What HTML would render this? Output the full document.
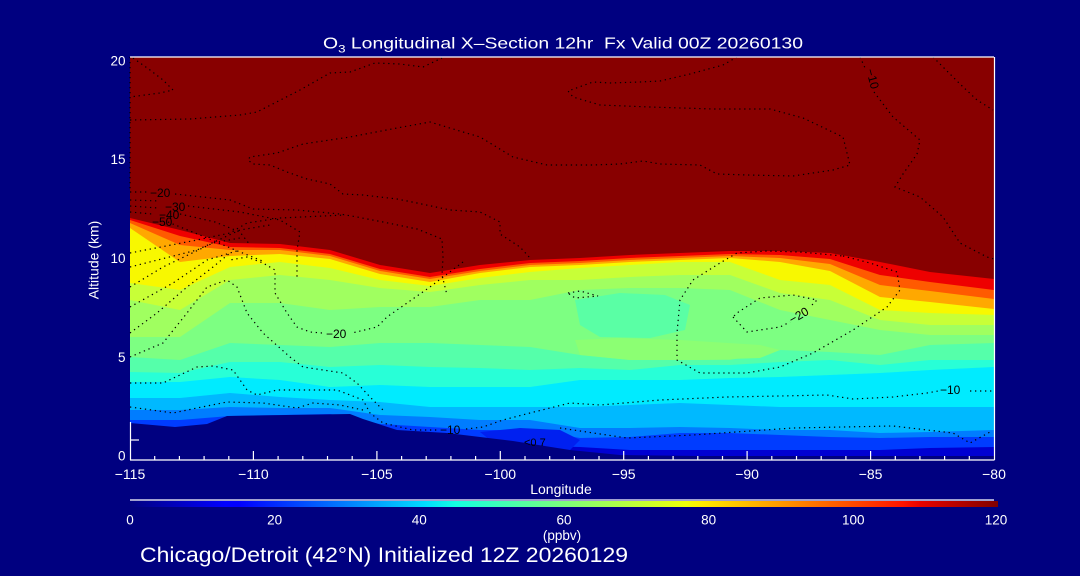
<!DOCTYPE html>
<html>
<head>
<meta charset="utf-8">
<style>
  html,body{margin:0;padding:0;background:#000080;}
  svg{display:block;}
  text{font-family:"Liberation Sans",sans-serif;}
</style>
</head>
<body>
<svg width="1080" height="576" viewBox="0 0 1080 576" xmlns="http://www.w3.org/2000/svg">
  <defs>
    <linearGradient id="jet" x1="0" y1="0" x2="1" y2="0">
      <stop offset="0" stop-color="#000080"/>
      <stop offset="0.11" stop-color="#0000ff"/>
      <stop offset="0.125" stop-color="#0000ff"/>
      <stop offset="0.34" stop-color="#00dbff"/>
      <stop offset="0.375" stop-color="#14ffe2"/>
      <stop offset="0.5" stop-color="#7bff7b"/>
      <stop offset="0.64" stop-color="#eeff08"/>
      <stop offset="0.66" stop-color="#ffec00"/>
      <stop offset="0.89" stop-color="#ff1300"/>
      <stop offset="0.91" stop-color="#e80000"/>
      <stop offset="1" stop-color="#800000"/>
    </linearGradient>
  </defs>
  <rect width="1080" height="576" fill="#000080"/>

  <!-- Field bands -->
  <rect x="130" y="57" width="864" height="403" fill="#0000d2"/>
  <polygon fill="#003cff" points="130,57 130,440 180,440 230,440 280,440 330,440 380,440 430,440 480,440 530,446 580,447 630,450 680,450 730,450 780,450 830,450 880,450 930,448 994,447 994,57"/>
  <polygon fill="#007dff" points="130,57 130,420 180,420 230,416 280,415 330,414 380,424 430,427 480,430 530,430 580,438 630,437 680,433 730,433 780,435 830,437 880,438 930,437 994,437 994,57"/>
  <polygon fill="#00b9ff" points="130,57 130,410 180,410 230,407 280,408 330,408 380,415 430,417 480,420 530,420 580,428 630,428 680,427 730,428 780,430 830,430 880,433 930,432 994,430 994,57"/>
  <polygon fill="#00ebff" points="130,57 130,398 180,398 230,393 280,397 330,400 380,402 430,407 480,407 530,407 580,407 630,405 680,403 730,405 780,407 830,407 880,407 930,407 994,407 994,57"/>
  <polygon fill="#28ffd7" points="130,57 130,382 180,382 230,377 280,380 330,387 380,385 430,387 480,387 530,387 580,380 630,380 680,380 730,378 780,377 830,375 880,373 930,370 994,367 994,57"/>
  <polygon fill="#55ffaa" points="130,57 130,372 180,373 230,362 280,362 330,367 380,365 430,367 480,368 530,370 580,368 630,370 680,365 730,365 780,362 830,360 880,365 930,360 994,360 994,57"/>
  <polygon fill="#7dff82" points="130,57 130,357 180,360 230,343 280,345 330,347 380,343 430,343 480,345 530,347 580,355 630,360 680,360 730,360 780,350 830,352 880,355 930,345 994,343 994,57"/>
  <polygon fill="#8cff73" points="575,340 620,338 680,340 760,345 780,350 760,358 700,360 630,360 580,355"/>
  <polygon fill="#a0ff60" points="130,57 130,337 180,337 230,303 280,303 330,310 380,307 430,307 480,300 530,300 580,290 630,288 680,288 730,290 780,310 830,320 880,330 930,335 994,335 994,57"/>
  <polygon fill="#c8ff37" points="130,57 130,300 180,310 230,280 280,275 330,280 380,288 430,292 480,285 530,280 580,280 630,277 680,275 730,275 780,293 830,300 880,320 930,325 994,325 994,57"/>
  <polygon fill="#f8f800" points="130,57 130,283 180,290 230,267 280,262 330,268 380,280 430,286 480,278 530,272 580,268 630,265 680,262 730,262 780,280 830,285 880,310 930,313 994,315 994,57"/>
  <polygon fill="#ffa800" points="130,57 130,228 180,262 230,256 280,254 330,259 380,274 430,282 480,273 530,267 580,265 630,262 680,260 730,258 780,262 830,271 880,297 930,302 994,309 994,57"/>
  <polygon fill="#ff5a00" points="130,57 130,223 180,245 230,250 280,250 330,256 380,271 430,279 480,271 530,265 580,263 630,260 680,258 730,256 780,258 830,264 880,285 930,291 994,299 994,57"/>
  <polygon fill="#ee0000" points="130,57 130,220 180,236 230,247 280,248 330,254 380,269 430,277 480,269 530,263 580,261 630,258 680,256 730,254 780,255 830,259 880,275 930,282 994,290 994,57"/>
  <polygon fill="#880000" points="130,57 130,218 180,230 230,243 280,244 330,250 380,265 430,273 480,265 530,260 580,258 630,255 680,253 730,251 780,251 830,253 880,262 930,272 994,279 994,57"/>

  <!-- patches -->
  <polygon fill="#5affa5" points="575,300 620,293 665,295 690,305 685,330 650,338 600,337 580,325"/>
  <polygon fill="#0020f0" points="480,432 520,428 560,430 580,440 570,450 520,448 490,440"/>

  <!-- terrain -->
  <polygon fill="#000080" points="130,423 175,427 207,424 227,416 350,414 363,419 397,430 447,433 513,441 570,450 620,455 700,456 994,456 994,461 130,461"/>

  <!-- contours -->
  <g fill="none" stroke="#000" stroke-width="1.2" stroke-dasharray="1.3 3.7">
    <path d="M130,57 L130,190"/>
    <path d="M133,58 L150,70 L163,80 L173,90 L160,93 L145,95 L130,97"/>
    <path d="M130,120 L190,119 L240,115 L257,112 L300,90 L330,73 L350,72 L375,63 L400,64 L423,67 L442,58"/>
    <path d="M737,57 L723,65 L690,74 L660,81 L640,82 L610,83 L593,82 L568,91 L573,97 L600,105 L650,107 L713,109 L770,109 L803,118 L843,137 L848,157 L850,165 L833,170 L793,176 L747,175 L717,174 L700,165 L660,164 L643,161 L620,164 L593,165 L547,165 L513,157 L480,137 L463,132 L430,122 L397,128 L350,137 L303,144 L277,153 L250,157 L248,160 L253,164 L270,165 L287,172 L307,179 L330,184 L343,194 L363,195 L397,199 L417,203 L450,210 L480,212 L500,222 L500,234 L520,247 L530,258"/>
    <path d="M130,192 L148,192"/>
    <path d="M175,194 L230,200 L243,205 L253,209 L297,210 L340,214 L357,217 L383,222 L417,229 L442,239 L443,257 L442,275 L447,295"/>
    <path d="M130,200 L160,201"/>
    <path d="M188,206 L240,212 L280,220 L300,232 L297,250 L297,278"/>
    <path d="M130,206 L158,208"/>
    <path d="M180,214 L215,222 L240,232 L250,245"/>
    <path d="M130,212 L152,214 M168,222 L200,235 L235,250 L265,262"/>
    <path d="M130,253 L197,240 L230,233 L247,223 L280,218 L345,215"/>
    <path d="M130,267 L197,250 L240,230 L270,225"/>
    <path d="M130,287 L163,267 L213,243 L240,238"/>
    <path d="M130,307 L173,283 L207,260 L240,250"/>
    <path d="M130,333 L157,313 L187,287 L213,267 L230,253"/>
    <path d="M463,262 L430,287 L407,303 L387,317 L377,327 L352,333"/>
    <path d="M322,333 L310,332 L297,327 L287,313 L275,293 L275,270 L263,263 L247,257 L230,260"/>
    <path d="M130,357 L163,343 L187,313 L207,287 L227,280 L237,287 L247,313 L263,333 L290,357 L303,367 L343,373 L357,383 L370,397 L383,410"/>
    <path d="M130,383 L163,383 L197,367 L213,366 L233,370 L247,390 L257,395 L277,390 L337,390 L363,400 L370,413 L383,423 L413,430 L437,430"/>
    <path d="M466,429 L483,427 L503,420 L530,413 L570,403 L600,405 L660,400 L727,397 L780,396 L827,395 L853,399 L893,397 L927,393 L938,391"/>
    <path d="M970,391 L993,391"/>
    <path d="M130,407 L173,413 L197,408 L227,402 L263,403 L297,408 L313,403 L340,405 L363,410"/>
    <path d="M560,428 L627,438 L693,435 L793,428 L893,426 L953,433 L970,443 L990,432"/>
    <path d="M843,256 L870,263 L897,272 L900,290 L887,307 L853,330 L813,353 L780,367 L747,373 L700,373 L677,360 L677,333 L680,300 L693,280 L720,263 L737,253 L767,251 L800,252 L843,256"/>
    <path d="M860,57 L866,70 M874,92 L893,117 L920,140 L917,154 L903,174 L895,187 L920,197 L943,217 L960,243 L987,257 L994,259"/>
    <path d="M933,57 L960,84 L977,100 L993,110"/>
    <path d="M733,317 L747,332 L780,327 L790,322"/>
    <path d="M812,305 L817,300 L793,295 L760,298 L737,313 L733,317"/>
    <path d="M568,293 L580,291 L598,296 L575,298 Z"/>
  </g>

  <!-- contour labels -->
  <g fill="#000" font-size="12">
    <text x="150" y="197">−20</text>
    <text x="165" y="211">−30</text>
    <text x="159" y="219">−40</text>
    <text x="152" y="226">−50</text>
    <text x="326" y="338">−20</text>
    <text x="440" y="434">−10</text>
    <text x="940" y="394">−10</text>
    <text x="524" y="446" font-size="11">&lt;0 7</text>
    <text x="0" y="0" transform="translate(792,324) rotate(-30)">−20</text>
    <text x="0" y="0" transform="translate(866,70) rotate(75)">−10</text>
  </g>

  <!-- axes -->
  <g stroke="#fff" stroke-width="1.2" fill="none">
    <line x1="130" y1="57" x2="994" y2="57"/>
    <line x1="994.5" y1="57" x2="994.5" y2="460"/>
    <line x1="130" y1="460" x2="994.5" y2="460"/>
    <line x1="130.5" y1="422" x2="130.5" y2="460"/>
    <line x1="130" y1="440" x2="139" y2="440"/>
  </g>
  <g stroke="#fff" stroke-width="1.2">
    <line x1="154.7" y1="460" x2="154.7" y2="456"/>
    <line x1="179.4" y1="460" x2="179.4" y2="456"/>
    <line x1="204.1" y1="460" x2="204.1" y2="456"/>
    <line x1="228.8" y1="460" x2="228.8" y2="456"/>
    <line x1="253.4" y1="460" x2="253.4" y2="451"/>
    <line x1="278.1" y1="460" x2="278.1" y2="456"/>
    <line x1="302.8" y1="460" x2="302.8" y2="456"/>
    <line x1="327.5" y1="460" x2="327.5" y2="456"/>
    <line x1="352.2" y1="460" x2="352.2" y2="456"/>
    <line x1="376.9" y1="460" x2="376.9" y2="451"/>
    <line x1="401.6" y1="460" x2="401.6" y2="456"/>
    <line x1="426.2" y1="460" x2="426.2" y2="456"/>
    <line x1="450.9" y1="460" x2="450.9" y2="456"/>
    <line x1="475.6" y1="460" x2="475.6" y2="456"/>
    <line x1="500.3" y1="460" x2="500.3" y2="451"/>
    <line x1="525.0" y1="460" x2="525.0" y2="456"/>
    <line x1="549.7" y1="460" x2="549.7" y2="456"/>
    <line x1="574.4" y1="460" x2="574.4" y2="456"/>
    <line x1="599.0" y1="460" x2="599.0" y2="456"/>
    <line x1="623.7" y1="460" x2="623.7" y2="451"/>
    <line x1="648.4" y1="460" x2="648.4" y2="456"/>
    <line x1="673.1" y1="460" x2="673.1" y2="456"/>
    <line x1="697.8" y1="460" x2="697.8" y2="456"/>
    <line x1="722.5" y1="460" x2="722.5" y2="456"/>
    <line x1="747.1" y1="460" x2="747.1" y2="451"/>
    <line x1="771.8" y1="460" x2="771.8" y2="456"/>
    <line x1="796.5" y1="460" x2="796.5" y2="456"/>
    <line x1="821.2" y1="460" x2="821.2" y2="456"/>
    <line x1="845.9" y1="460" x2="845.9" y2="456"/>
    <line x1="870.6" y1="460" x2="870.6" y2="451"/>
    <line x1="895.3" y1="460" x2="895.3" y2="456"/>
    <line x1="919.9" y1="460" x2="919.9" y2="456"/>
    <line x1="944.6" y1="460" x2="944.6" y2="456"/>
    <line x1="969.3" y1="460" x2="969.3" y2="456"/>
  </g>

  <!-- tick labels -->
  <g fill="#fff" font-size="14" text-anchor="middle">
    <text x="130" y="479">−115</text>
    <text x="253.4" y="479">−110</text>
    <text x="376.9" y="479">−105</text>
    <text x="500.3" y="479">−100</text>
    <text x="623.7" y="479">−95</text>
    <text x="747.1" y="479">−90</text>
    <text x="870.6" y="479">−85</text>
    <text x="994" y="479">−80</text>
    <text x="561" y="494">Longitude</text>
  </g>
  <g fill="#fff" font-size="13.5" text-anchor="end">
    <text x="125.5" y="65.5">20</text>
    <text x="125.5" y="164.2">15</text>
    <text x="125.5" y="263">10</text>
    <text x="125.5" y="361.8">5</text>
    <text x="125.5" y="460.5">0</text>
  </g>
  <text x="0" y="0" fill="#fff" font-size="14" text-anchor="middle" transform="translate(98.5,260) rotate(-90)">Altitude (km)</text>

  <!-- title -->
  <text x="323" y="48.5" fill="#fff" font-size="16" textLength="480" lengthAdjust="spacingAndGlyphs" style="white-space:pre">O<tspan dy="4" font-size="11">3</tspan><tspan dy="-4"> Longitudinal X–Section 12hr  Fx Valid 00Z 20260130</tspan></text>

  <!-- colorbar -->
  <line x1="130" y1="500" x2="994" y2="500" stroke="#fff" stroke-width="1.2"/>
  <rect x="130" y="501" width="868" height="6" fill="url(#jet)"/>
  <g fill="#fff" font-size="13.5" text-anchor="middle">
    <text x="130" y="524.5">0</text>
    <text x="274.7" y="524.5">20</text>
    <text x="419.3" y="524.5">40</text>
    <text x="564" y="524.5">60</text>
    <text x="708.7" y="524.5">80</text>
    <text x="853.3" y="524.5">100</text>
    <text x="996" y="524.5">120</text>
    <text x="562" y="540">(ppbv)</text>
  </g>

  <text x="140" y="562" fill="#fff" font-size="21" textLength="488" lengthAdjust="spacingAndGlyphs">Chicago/Detroit (42°N) Initialized 12Z 20260129</text>
</svg>
</body>
</html>
